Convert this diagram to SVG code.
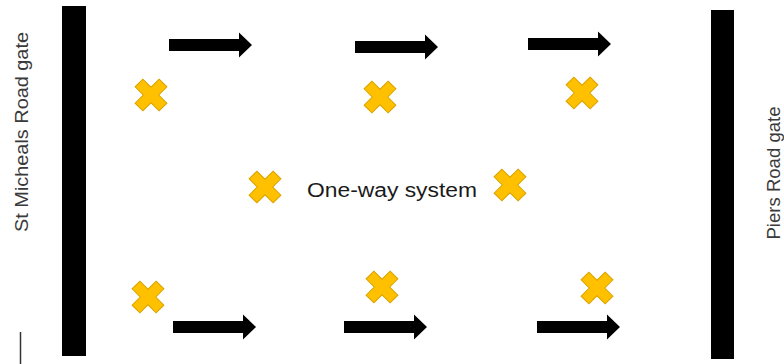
<svg xmlns="http://www.w3.org/2000/svg" width="784" height="364" viewBox="0 0 784 364">
<style>
.gate{fill:#000;}
.lbl{font-family:"Liberation Sans",Arial,sans-serif;font-size:19px;fill:#3a3a3a;}
.mid{font-family:"Liberation Sans",Arial,sans-serif;font-size:20px;fill:#1a1a1a;}
.arrow{fill:#000;}
.cross{fill:#FFC000;stroke:#D9A300;stroke-width:1;}
</style>
<defs>
<path id="arr" d="M0,-6 H70 V-12.5 L83,0 L70,12.5 V6 H0 Z"/>
<path id="x" transform="rotate(45)" d="M-5.5,-17 H5.5 V-5.5 H17 V5.5 H5.5 V17 H-5.5 V5.5 H-17 V-5.5 H-5.5 Z"/>
</defs>
<rect width="784" height="364" fill="#fff"/>
<g id="gate-left">
<rect class="gate" x="62" y="6" width="24" height="350"/>
<text class="lbl" transform="translate(28,132) rotate(-90)" text-anchor="middle" textLength="200" lengthAdjust="spacingAndGlyphs">St Micheals Road gate</text>
</g>
<g id="gate-right">
<rect class="gate" x="711" y="10" width="23" height="349"/>
<text class="lbl" transform="translate(780,173) rotate(-90)" text-anchor="middle" textLength="133" lengthAdjust="spacingAndGlyphs">Piers Road gate</text>
</g>
<g id="label-oneway">
<text class="mid" x="392" y="197" text-anchor="middle" textLength="170" lengthAdjust="spacingAndGlyphs">One-way system</text>
</g>
<g id="tick">
<line x1="20.5" y1="332" x2="20.5" y2="364" stroke="#333" stroke-width="1.5"/>
</g>
<g id="crosses">
<use href="#x" class="cross" x="151" y="95"/>
<use href="#x" class="cross" x="380" y="97"/>
<use href="#x" class="cross" x="582" y="93"/>
<use href="#x" class="cross" x="265" y="187"/>
<use href="#x" class="cross" x="510" y="185"/>
<use href="#x" class="cross" x="148" y="297"/>
<use href="#x" class="cross" x="382" y="287"/>
<use href="#x" class="cross" x="597" y="288"/>
</g>
<g id="connectors">
<use href="#arr" class="arrow" x="169" y="45"/>
<use href="#arr" class="arrow" x="355" y="47"/>
<use href="#arr" class="arrow" x="528" y="44"/>
<use href="#arr" class="arrow" x="173" y="327"/>
<use href="#arr" class="arrow" x="344" y="327"/>
<use href="#arr" class="arrow" x="537" y="327"/>
</g>
</svg>
